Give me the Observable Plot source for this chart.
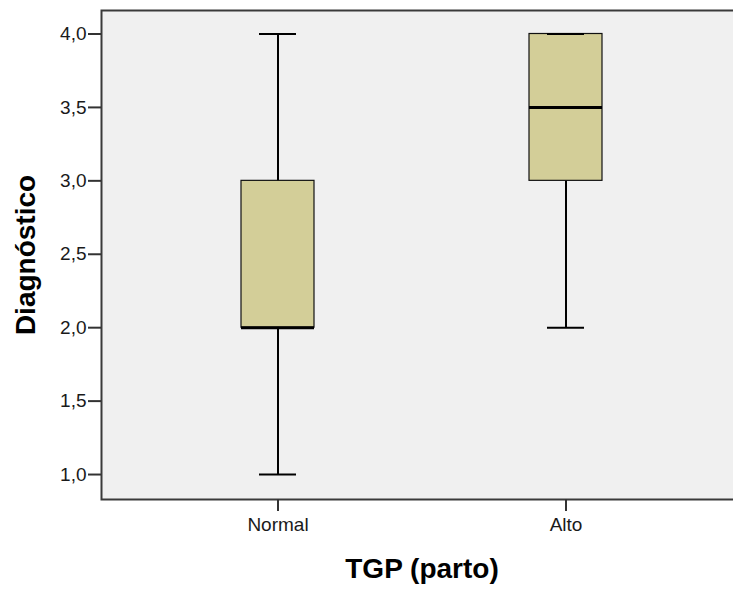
<!DOCTYPE html>
<html>
<head>
<meta charset="utf-8">
<script src="https://cdn.jsdelivr.net/npm/d3@7"></script>
<script src="https://cdn.jsdelivr.net/npm/@observablehq/plot@0.6"></script>
<style>
  html, body { margin: 0; padding: 0; background: #ffffff; overflow: hidden; }
</style>
</head>
<body>
<div id="chart"></div>
<script>
// Summary statistics
const categories = ["Normal", "Alto"];
const minValues = [1.0, 2.0];
const q1Values = [2.0, 3.0];
const medianValues = [2.0, 3.5];
const q3Values = [3.0, 4.0];
const maxValues = [4.0, 4.0];
const yTicks = [1.0, 1.5, 2.0, 2.5, 3.0, 3.5, 4.0];
const xTitle = "TGP (parto)";
const yTitle = "Diagnóstico";

const boxes = categories.map((c, i) => ({
  cat: c, min: minValues[i], q1: q1Values[i], median: medianValues[i], q3: q3Values[i], max: maxValues[i]
}));
const caps = boxes.flatMap(b => [{cat: b.cat, v: b.min}, {cat: b.cat, v: b.max}]);

const fmt = d => d.toFixed(1).replace(".", ",");

const chart = Plot.plot({
  width: 745,
  height: 589,
  marginLeft: 101,
  marginRight: 3,
  marginTop: 10,
  marginBottom: 90,
  style: {background: "#ffffff", fontFamily: "'Liberation Sans', Arial, sans-serif", maxWidth: "none", color: "#1a1a1a"},
  x: {type: "band", domain: categories, paddingInner: 0.7474, paddingOuter: 0.4827, align: 0.5},
  y: {domain: [0.830, 4.160]},
  marks: [
    Plot.frame({fill: "#f0f0f0", stroke: "none"}),
    Plot.ruleX(boxes, {x: "cat", y1: "min", y2: "max", stroke: "#000", strokeWidth: 2}),
    Plot.barY(boxes, {x: "cat", y1: "q1", y2: "q3", fill: "#d3ce98", stroke: "#111", strokeWidth: 1.2}),
    Plot.tickY(caps, {x: "cat", y: "v", stroke: "#000", strokeWidth: 2, insetLeft: 18, insetRight: 18}),
    Plot.tickY(boxes, {x: "cat", y: "median", stroke: "#000", strokeWidth: 3}),
    Plot.frame({stroke: "#3a3a3a", strokeWidth: 2}),
    Plot.axisY({ticks: yTicks, tickFormat: fmt, tickSize: 13, tickPadding: 2, fontSize: 19, label: null, stroke: "#333", strokeWidth: 2}),
    Plot.axisX({tickSize: 12, tickPadding: 6, fontSize: 19, label: null, stroke: "#333", strokeWidth: 2}),
    Plot.text([yTitle], {frameAnchor: "left", textAnchor: "middle", lineAnchor: "middle", dx: -75, rotate: -90, fontSize: 28, fontWeight: "bold", fill: "#000"}),
    Plot.text([xTitle], {frameAnchor: "bottom", textAnchor: "middle", lineAnchor: "middle", dy: 70, fontSize: 28, fontWeight: "bold", fill: "#000"})
  ]
});
document.getElementById("chart").appendChild(chart);
</script>
</body>
</html>
